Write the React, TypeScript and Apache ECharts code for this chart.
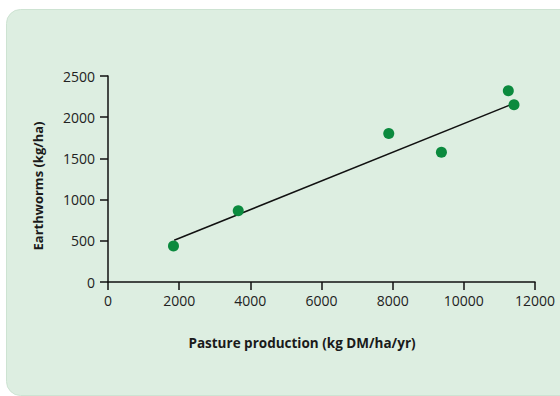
import React, { useEffect, useRef } from "react";
import * as echarts from "echarts";

const pastureProduction = [1840, 3660, 7890, 9370, 11250, 11410];
const earthworms = [438, 864, 1801, 1575, 2321, 2150];
const trendX = [1860, 11370];
const trendY = [506, 2160];
const xTicks = [0, 2000, 4000, 6000, 8000, 10000, 12000];
const yTicks = [0, 500, 1000, 1500, 2000, 2500];
const xTitle = "Pasture production (kg DM/ha/yr)";
const yTitle = "Earthworms (kg/ha)";

const FONT = "'Open Sans', 'Noto Sans', sans-serif";

export default function App() {
  const ref = useRef<HTMLDivElement>(null);
  useEffect(() => {
    document.body.style.margin = "0";
    if (!ref.current) return;
    const chart = echarts.init(ref.current, undefined, { renderer: "svg" });
    const axisCommon = {
      axisLine: { show: true, onZero: false, lineStyle: { color: "#111", width: 1.5 } },
      axisTick: { show: true, length: 8, lineStyle: { color: "#111", width: 1.5 } },
      splitLine: { show: false },
    };
    chart.setOption({
      animation: false,
      backgroundColor: "#ffffff",
      graphic: [
        {
          type: "rect",
          z: -10,
          silent: true,
          shape: { x: 6.5, y: 9.5, width: 620, height: 386, r: 14 },
          style: { fill: "#ddeee1", stroke: "#cde3d2", lineWidth: 1 },
        },
        {
          type: "text",
          x: 302,
          y: 343,
          style: {
            text: xTitle,
            font: `bold 13.5px ${FONT}`,
            fill: "#1a1a1a",
            align: "center",
            verticalAlign: "middle",
          },
        },
        {
          type: "text",
          x: 38,
          y: 186,
          rotation: Math.PI / 2,
          style: {
            text: yTitle,
            font: `bold 13px ${FONT}`,
            fill: "#1a1a1a",
            align: "center",
            verticalAlign: "middle",
          },
        },
      ],
      grid: { left: 108, right: 25, top: 76, bottom: 114, containLabel: false },
      xAxis: {
        type: "value",
        min: xTicks[0],
        max: xTicks[xTicks.length - 1],
        interval: xTicks[1] - xTicks[0],
        ...axisCommon,
        axisLabel: {
          margin: 11,
          fontSize: 14,
          fontFamily: FONT,
          color: "#222",
          showMaxLabel: true,
          formatter: (v: number) => String(v),
        },
      },
      yAxis: {
        type: "value",
        min: yTicks[0],
        max: yTicks[yTicks.length - 1],
        interval: yTicks[1] - yTicks[0],
        ...axisCommon,
        axisLabel: {
          margin: 13,
          fontSize: 14,
          fontFamily: FONT,
          color: "#222",
          formatter: (v: number) => String(v),
        },
      },
      series: [
        {
          type: "line",
          data: trendX.map((x, i) => [x, trendY[i]]),
          showSymbol: false,
          symbol: "none",
          lineStyle: { color: "#111", width: 1.5 },
          z: 2,
        },
        {
          type: "scatter",
          data: pastureProduction.map((x, i) => [x, earthworms[i]]),
          symbolSize: 11,
          itemStyle: { color: "#0b8a3e", opacity: 1 },
          z: 3,
        },
      ],
    });
    return () => chart.dispose();
  }, []);
  return <div ref={ref} style={{ width: 560, height: 396 }} />;
}
